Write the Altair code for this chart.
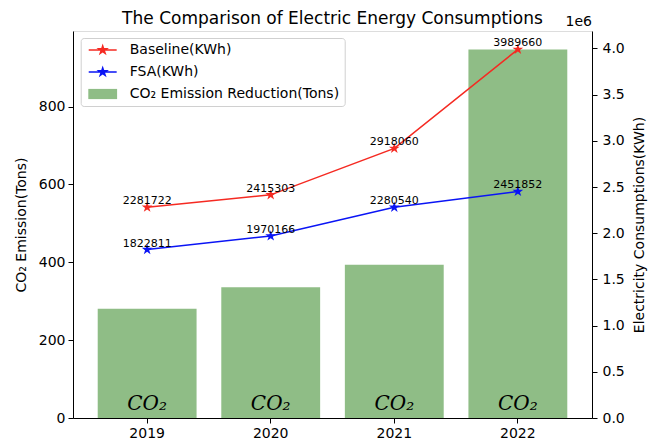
import math
import altair as alt
import pandas as pd

# ---- data ----
years = ["2019", "2020", "2021", "2022"]
co2_reduction = [281, 336, 394, 947]
baseline_kwh = [2281722, 2415303, 2918060, 3989660]
fsa_kwh = [1822811, 1970166, 2280540, 2451852]
series_names = ["Baseline(KWh)", "FSA(KWh)", "CO₂ Emission Reduction(Tons)"]
series_colors = ["#f52a22", "#0a14f5", "#8fbd86"]
left_ticks = [0, 200, 400, 600, 800]
right_ticks = [0, 500000, 1000000, 1500000, 2000000, 2500000, 3000000, 3500000, 4000000]
chart_title = "The Comparison of Electric Energy Consumptions"

# ---- tables ----
bar_df = pd.DataFrame({"year": years, "co2": co2_reduction, "series": series_names[2]})
line_df = pd.concat([
    pd.DataFrame({"year": years, "value": baseline_kwh, "series": series_names[0]}),
    pd.DataFrame({"year": years, "value": fsa_kwh, "series": series_names[1]}),
], ignore_index=True)


# ---- marker paths ----
def star_pts(r_out, cx=0.0, cy=0.0):
    pts = []
    for k in range(10):
        a = math.radians(-90 + 36 * k)
        r = r_out if k % 2 == 0 else r_out * 0.381966
        pts.append((cx + r * math.cos(a), cy + r * math.sin(a)))
    return "M" + "L".join(f"{x:.3f},{y:.3f}" for x, y in pts) + "Z"


star_path = star_pts(1.0)
line_star_path = "M-2.33,-0.125L2.33,-0.125L2.33,0.125L-2.33,0.125Z" + star_pts(1.1)
rect_path = "M-2.4,-0.85L2.4,-0.85L2.4,0.85L-2.4,0.85Z"

FONT = "DejaVu Sans"
W, H = 519, 387
LEFT_MAX = 947 * 1.05
RIGHT_MAX = 3989660 * 1.05

legend_def = alt.Legend(
    title=None, orient="none", legendX=7.7, legendY=7, padding=5,
    fillColor="white", strokeColor="#d0d0d0", cornerRadius=3,
    labelFont=FONT, labelFontSize=14, labelColor="black", labelLimit=400,
    symbolSize=144, symbolOffset=10, labelOffset=20, rowPadding=8,
    symbolStrokeWidth=0, symbolOpacity=1,
)
color_scale = alt.Scale(domain=series_names, range=series_colors)

x_enc = alt.X(
    "year:N",
    scale=alt.Scale(domain=years, paddingInner=0.2, paddingOuter=0.2),
    axis=alt.Axis(title=None, labelAngle=0, labelFont=FONT, labelFontSize=14,
                  labelColor="black", tickColor="black", domainColor="black",
                  tickSize=5, labelPadding=3, grid=False),
)

y_left = alt.Y(
    "co2:Q",
    scale=alt.Scale(domain=[0, LEFT_MAX], nice=False, zero=True),
    axis=alt.Axis(title="CO₂ Emission(Tons)", values=left_ticks, orient="left",
                  labelFont=FONT, labelFontSize=14, labelColor="black",
                  titleFont=FONT, titleFontSize=14, titleFontWeight="normal",
                  titleColor="black", tickColor="black", domainColor="black",
                  tickSize=5, labelPadding=3, titlePadding=10, grid=False),
)

bars = alt.Chart(bar_df).mark_bar(opacity=1).encode(
    x=x_enc, y=y_left,
    color=alt.Color("series:N", scale=color_scale, legend=legend_def),
)
co2_text = alt.Chart(bar_df).mark_text(
    text="CO₂", font="DejaVu Serif", fontStyle="italic", fontSize=20,
    baseline="alphabetic", dy=-8, color="black",
).encode(x=x_enc, y=alt.datum(0))

left_group = alt.layer(bars, co2_text)

y_right = alt.Y(
    "value:Q",
    scale=alt.Scale(domain=[0, RIGHT_MAX], nice=False, zero=True),
    axis=alt.Axis(title="Electricity Consumptions(KWh)", values=right_ticks, orient="right",
                  labelExpr="format(datum.value / 1000000, '.1f')",
                  labelFont=FONT, labelFontSize=14, labelColor="black",
                  titleFont=FONT, titleFontSize=14, titleFontWeight="normal",
                  titleColor="black", titleAngle=270, titleBaseline="top",
                  tickColor="black", domainColor="black",
                  tickSize=5, labelPadding=5, titlePadding=8, grid=False),
)
color_enc = alt.Color("series:N", scale=color_scale, legend=legend_def)

lines = alt.Chart(line_df).mark_line(strokeWidth=1.5).encode(
    x=x_enc, y=y_right, color=color_enc)
points = alt.Chart(line_df).mark_point(
    shape=star_path, filled=True, size=130, opacity=1, strokeWidth=0
).encode(x=x_enc, y=y_right, color=color_enc)
labels = alt.Chart(line_df).mark_text(
    font=FONT, fontSize=11, baseline="alphabetic", dy=-3, color="black"
).encode(x=x_enc, y=y_right, text=alt.Text("value:Q", format="d"))
legend_shapes = alt.Chart(line_df).transform_filter("false").mark_point(
    filled=True, opacity=1
).encode(
    x=x_enc, y=y_right, color=color_enc,
    shape=alt.Shape("series:N",
                    scale=alt.Scale(domain=series_names,
                                    range=[line_star_path, line_star_path, rect_path]),
                    legend=legend_def),
)

right_group = alt.layer(lines, points, labels, legend_shapes)

exp_text = alt.Chart(pd.DataFrame({"t": ["1e6"]})).mark_text(
    font=FONT, fontSize=14, align="right", baseline="alphabetic", color="black"
).encode(text="t:N", x=alt.value(W), y=alt.value(-5))

title_text = alt.Chart(pd.DataFrame({"t": [chart_title]})).mark_text(
    font=FONT, fontSize=17, align="center", baseline="alphabetic", color="black"
).encode(text="t:N", x=alt.value(W / 2), y=alt.value(-7))

chart = alt.layer(left_group, right_group, exp_text, title_text).resolve_scale(
    y="independent"
).properties(
    width=W, height=H,
    autosize=alt.AutoSizeParams(type="none"),
    padding={"left": 65, "top": 23, "right": 68, "bottom": 24},
).configure_view(
    stroke="black", strokeWidth=1
).configure(background="white")

chart.save("out.html", embed_options={"renderer": "svg", "actions": False})
